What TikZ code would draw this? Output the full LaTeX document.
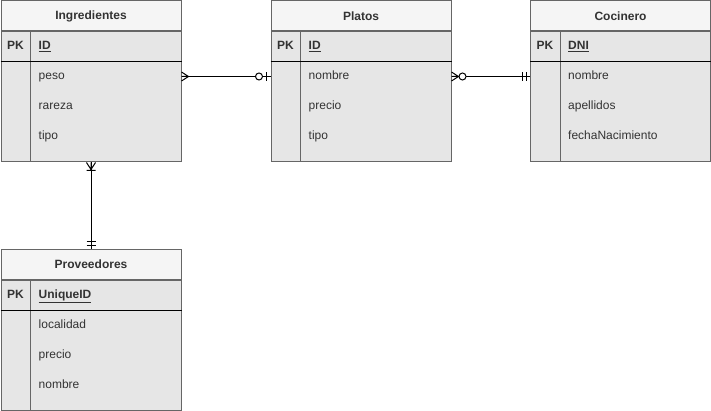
\documentclass[tikz,border=0pt]{standalone}
\usepackage{fontspec}
\setmainfont{Liberation Sans}
\usetikzlibrary{positioning,decorations.markings}

\definecolor{tblline}{HTML}{666666}
\definecolor{tblhead}{HTML}{F5F5F5}
\definecolor{tblbody}{HTML}{E6E6E6}
\definecolor{tbltext}{HTML}{333333}

\tikzset{
  tbltitle/.style={draw=tblline, fill=tblhead, line width=1pt, minimum width=180pt, minimum height=30pt,
    inner sep=0pt, anchor=north west, text=tbltext, font=\fontsize{12}{14}\selectfont\bfseries},
  tblbox/.style={draw=tblline, fill=tblbody, line width=1pt, minimum width=180pt, minimum height=130pt,
    inner sep=0pt},
  keycell/.style={inner sep=0pt, text height=8.6pt, text depth=2.6pt, text=tbltext,
    font=\fontsize{12}{14}\selectfont\bfseries},
  fieldcell/.style={inner sep=0pt, text height=8.6pt, text depth=2.6pt, anchor=west, text=tbltext,
    font=\fontsize{12}{14}\selectfont},
  rel/.style={draw=black, line width=1pt},
  % crow's foot marks
  manystart/.style={postaction={decorate,decoration={markings,
    mark=at position 0 with {\draw[line width=1pt] (0,4.5) -- (7,0) -- (0,-4.5) (0,0) -- (7,0);}}}},
  onemanystart/.style={postaction={decorate,decoration={markings,
    mark=at position 0 with {\draw[line width=1pt] (0,4.5) -- (7,0) -- (0,-4.5) (0,0) -- (7,0) (8,4.5) -- (8,-4.5);}}}},
  zeromanystart/.style={postaction={decorate,decoration={markings,
    mark=at position 0 with {\draw[line width=1pt] (0,4.5) -- (7,0) -- (0,-4.5) (0,0) -- (7,0);
      \draw[line width=1pt, fill=white] (11,0) circle[radius=3.5];}}}},
  zerooneend/.style={postaction={decorate,decoration={markings,
    mark=at position 1 with {\draw[line width=1pt] (-4,4.5) -- (-4,-4.5);
      \draw[line width=1pt, fill=white] (-11.5,0) circle[radius=3.5];}}}},
  mandoneend/.style={postaction={decorate,decoration={markings,
    mark=at position 1 with {\draw[line width=1pt] (-4,4.5) -- (-4,-4.5) (-8,4.5) -- (-8,-4.5);}}}},
}

% table: name, x, y, title, key, fields
\newcommand\ertable[6]{%
  \node[tbltitle] (#1) at (#2,#3) {#4};
  \node[tblbox, below=0pt of #1] (#1-body) {};
  \draw[tblline, line width=1pt] ([xshift=30pt]#1-body.north west) -- ([xshift=30pt]#1-body.south west);
  \draw[black, line width=1pt] ([yshift=-30pt]#1-body.north west) -- ([yshift=-30pt]#1-body.north east);
  \node[keycell] (#1-pk) at ([xshift=15pt,yshift=-15pt]#1-body.north west) {PK};
  \node[fieldcell, font=\fontsize{12}{14}\selectfont\bfseries] (#1-key) at ([xshift=38pt,yshift=-15pt]#1-body.north west) {\underline{#5}};
  \foreach \fld [count=\i] in {#6}
    \node[fieldcell] (#1-f\i) at ([xshift=38pt,yshift={-15pt-30pt*\i}]#1-body.north west) {\fld};
}

\begin{document}
\begin{tikzpicture}[x=1pt, y=-1pt]
\useasboundingbox[fill=white] (0,0) rectangle (711,411);

\ertable{ingr}{0.5}{0.5}{Ingredientes}{ID}{peso,rareza,tipo}
\ertable{plat}{270.5}{0.5}{Platos}{ID}{nombre,precio,tipo}
\ertable{coci}{530}{0.5}{Cocinero}{DNI}{nombre,apellidos,fechaNacimiento}
\ertable{prov}{0.5}{249.2}{Proveedores}{UniqueID}{localidad,precio,nombre}

% relations
\draw[rel, manystart, zerooneend] (ingr-body.east |- ingr-f1) -- (plat-body.west |- plat-f1);
\draw[rel, zeromanystart, mandoneend] (plat-body.east |- plat-f1) -- (coci-body.west |- coci-f1);
\draw[rel, onemanystart, mandoneend] (ingr-body.south) -- (prov.north);
\end{tikzpicture}
\end{document}
